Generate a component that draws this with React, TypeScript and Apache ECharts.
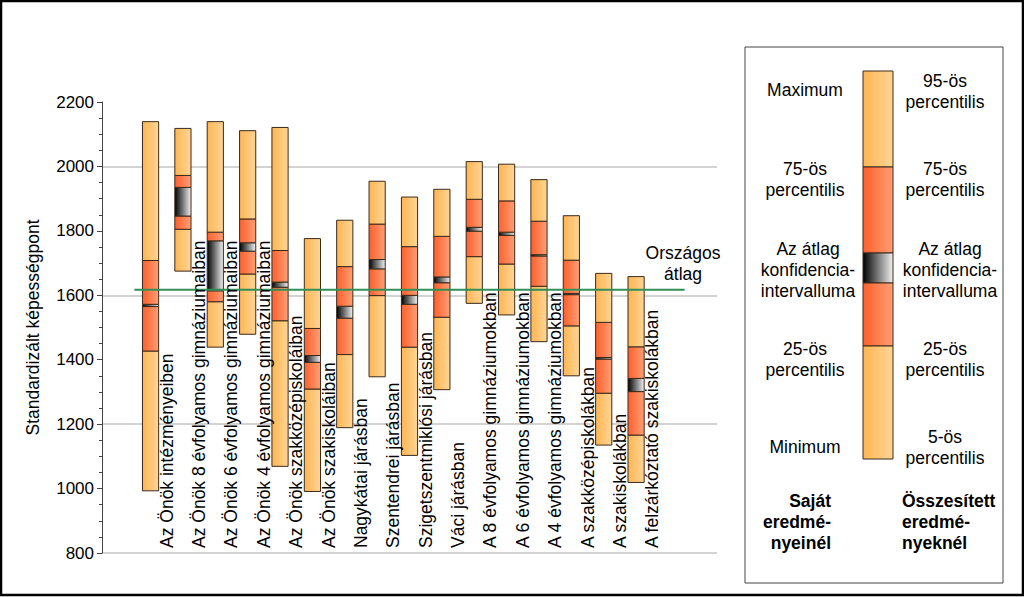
import React, { useEffect, useRef } from 'react';
import * as echarts from 'echarts';

const CATEGORIES = [
  'Az Önök intézményeiben',
  'Az Önök 8 évfolyamos gimnáziumaiban',
  'Az Önök 6 évfolyamos gimnáziumaiban',
  'Az Önök 4 évfolyamos gimnáziumaiban',
  'Az Önök szakközépiskoláiban',
  'Az Önök szakiskoláiban',
  'Nagykátai járásban',
  'Szentendrei járásban',
  'Szigetszentmiklósi járásban',
  'Váci járásban',
  'A 8 évfolyamos gimnáziumokban',
  'A 6 évfolyamos gimnáziumokban',
  'A 4 évfolyamos gimnáziumokban',
  'A szakközépiskolákban',
  'A szakiskolákban',
  'A felzárkóztató szakiskolákban',
];
const MINS = [993, 1675, 1439, 1479, 1069, 991, 1189, 1347, 1103, 1307, 1575, 1539, 1456, 1350, 1135, 1019];
const P25 = [1427, 1805, 1580, 1666, 1521, 1309, 1416, 1599, 1439, 1532, 1720, 1697, 1628, 1505, 1296, 1166];
const CI_LOW = [1565, 1846, 1614, 1737, 1625, 1392, 1529, 1682, 1572, 1639, 1799, 1786, 1722, 1602, 1402, 1301];
const CI_HIGH = [1572, 1935, 1769, 1763, 1641, 1413, 1566, 1711, 1600, 1657, 1811, 1796, 1726, 1606, 1407, 1342];
const P75 = [1708, 1972, 1796, 1837, 1739, 1497, 1689, 1821, 1751, 1783, 1898, 1893, 1830, 1709, 1516, 1440];
const MAXS = [2139, 2118, 2139, 2111, 2121, 1776, 1833, 1954, 1905, 1929, 2015, 2007, 1959, 1847, 1668, 1658];
const NATIONAL_AVG = 1617;
const Y_MIN = 800;
const Y_MAX = 2200;
const Y_STEP = 200;
const GRID_STEP = 400;

const FONT = '"Liberation Sans", Arial, sans-serif';

const LIGHT = {
  type: 'linear', x: 0, y: 0, x2: 1, y2: 0,
  colorStops: [{ offset: 0, color: '#FFB552' }, { offset: 1, color: '#FFD596' }],
};
const DARK = {
  type: 'linear', x: 0, y: 0, x2: 1, y2: 0,
  colorStops: [{ offset: 0, color: '#FF5F2C' }, { offset: 1, color: '#FF9F75' }],
};
const CI = {
  type: 'linear', x: 0, y: 0, x2: 1, y2: 0,
  colorStops: [{ offset: 0, color: '#000000' }, { offset: 1, color: '#F2F2F2' }],
};
const STROKE = '#3a2a1a';

export default function App() {
  const ref = useRef<HTMLDivElement>(null);

  useEffect(() => {
    if (!ref.current) return;
    const chart = echarts.init(ref.current, undefined, { renderer: 'svg' });

    const axisCats = ['', ...CATEGORIES, '', ''];
    const boxData = CATEGORIES.map((_, i) => [i + 1, MINS[i], P25[i], CI_LOW[i], CI_HIGH[i], P75[i], MAXS[i]]);

    const renderBox = (params: any, api: any) => {
      const idx = api.value(0);
      const vals = [1, 2, 3, 4, 5, 6].map((d) => api.value(d));
      const ys = vals.map((v) => api.coord([idx, v])[1]);
      const cx = api.coord([idx, vals[0]])[0];
      const w = api.size([1, 0])[0] * 0.5;
      const fills = [LIGHT, DARK, CI, DARK, LIGHT];
      const children = fills.map((f, k) => ({
        type: 'rect',
        shape: { x: cx - w / 2, y: ys[k + 1], width: w, height: ys[k] - ys[k + 1] },
        style: { fill: f, stroke: STROKE, lineWidth: 1 },
      }));
      return { type: 'group', children };
    };

    const renderLabel = (params: any, api: any) => {
      const p = api.coord([api.value(0), api.value(1)]);
      const half = api.size([1, 0])[0] / 2;
      return {
        type: 'text',
        x: p[0] + half,
        y: p[1] - 5,
        rotation: Math.PI / 2,
        style: {
          text: CATEGORIES[params.dataIndex],
          fill: '#000',
          fontSize: 17.5,
          fontFamily: FONT,
          align: 'left',
          verticalAlign: 'middle',
        },
      };
    };

    const legendText = (text: string, x: number, y: number, align: string = 'center', bold = false) => ({
      type: 'text',
      x,
      y,
      style: {
        text,
        fill: '#000',
        fontSize: 17.5,
        fontWeight: bold ? 'bold' : 'normal',
        fontFamily: FONT,
        align,
        verticalAlign: 'middle',
        lineHeight: 21,
      },
    });

    const LBX = 863;
    const LBW = 30;
    const segs = [
      [71, 167, LIGHT],
      [167, 253, DARK],
      [253, 283, CI],
      [283, 346, DARK],
      [346, 459, LIGHT],
    ];

    const option: any = {
      animation: false,
      backgroundColor: '#fff',
      textStyle: { fontFamily: FONT },
      grid: { left: 102, right: 307, top: 102, bottom: 44, containLabel: false },
      xAxis: [
        {
          type: 'category',
          data: axisCats,
          boundaryGap: true,
          axisLine: { show: false },
          axisTick: { show: false },
          axisLabel: { show: false },
          splitLine: { show: false },
        },
        { type: 'value', min: 0, max: axisCats.length, show: false },
      ],
      yAxis: [
        {
          type: 'value',
          min: Y_MIN,
          max: Y_MAX,
          interval: Y_STEP,
          name: 'Standardizált képességpont',
          nameLocation: 'middle',
          nameGap: 60,
          nameTextStyle: { fontSize: 17.5, color: '#000', fontFamily: FONT },
          axisLine: { show: true, lineStyle: { color: '#444', width: 1 } },
          axisTick: { show: true, length: 5, lineStyle: { color: '#444' } },
          minorTick: { show: true, splitNumber: 4, length: 3, lineStyle: { color: '#444' } },
          axisLabel: {
            fontSize: 17,
            color: '#000',
            margin: 8,
            fontFamily: FONT,
            formatter: (v: number) => String(v),
          },
          splitLine: { show: false },
          z: 3,
        },
        {
          type: 'value',
          min: Y_MIN,
          max: Y_MAX,
          interval: GRID_STEP,
          position: 'left',
          axisLine: { show: false },
          axisTick: { show: false },
          axisLabel: { show: false },
          splitLine: { show: true, showMaxLine: false, lineStyle: { color: '#c4c4c4', width: 1.5 } },
        },
      ],
      series: [
        {
          type: 'custom',
          name: 'box',
          xAxisIndex: 0,
          yAxisIndex: 0,
          data: boxData,
          renderItem: renderBox,
          z: 2,
          silent: true,
        },
        {
          type: 'line',
          name: 'Országos átlag',
          xAxisIndex: 1,
          yAxisIndex: 0,
          data: [[1, NATIONAL_AVG], [CATEGORIES.length + 2, NATIONAL_AVG]],
          symbol: 'none',
          lineStyle: { color: '#2f8f56', width: 2 },
          z: 4,
          silent: true,
        },
        {
          type: 'custom',
          name: 'labels',
          xAxisIndex: 0,
          yAxisIndex: 0,
          data: CATEGORIES.map((_, i) => [i + 1, Y_MIN]),
          renderItem: renderLabel,
          z: 6,
          silent: true,
        },
      ],
      graphic: [
        {
          type: 'rect',
          shape: { x: 1, y: 1, width: 1022, height: 594 },
          style: { fill: 'none', stroke: '#000', lineWidth: 2.5 },
          silent: true,
          z: 10,
        },
        legendText('Országos\nátlag', 683, 263),
        {
          type: 'rect',
          shape: { x: 745, y: 47, width: 258, height: 536 },
          style: { fill: '#fff', stroke: '#444', lineWidth: 1 },
          z: -1,
        },
        ...segs.map((s: any) => ({
          type: 'rect',
          shape: { x: LBX, y: s[0], width: LBW, height: s[1] - s[0] },
          style: { fill: s[2], stroke: STROKE, lineWidth: 1 },
        })),
        legendText('Maximum', 805, 90),
        legendText('75-ös\npercentilis', 805, 179.5),
        legendText('Az átlag\nkonfidencia-\nintervalluma', 808, 270),
        legendText('25-ös\npercentilis', 805, 359),
        legendText('Minimum', 805, 447),
        legendText('95-ös\npercentilis', 945, 91),
        legendText('75-ös\npercentilis', 945, 179.5),
        legendText('Az átlag\nkonfidencia-\nintervalluma', 950, 270),
        legendText('25-ös\npercentilis', 945, 359),
        legendText('5-ös\npercentilis', 945, 447.5),
        legendText(' Saját\neredmé-\nnyeinél', 831, 521.5, 'right', true),
        legendText('Összesített\neredmé-\nnyeknél', 902, 521.5, 'left', true),
      ],
    };

    chart.setOption(option);
    return () => chart.dispose();
  }, []);

  return (
    <div
      ref={ref}
      style={{ position: 'absolute', left: 0, top: 0, width: 1024, height: 597, background: '#fff' }}
    />
  );
}
